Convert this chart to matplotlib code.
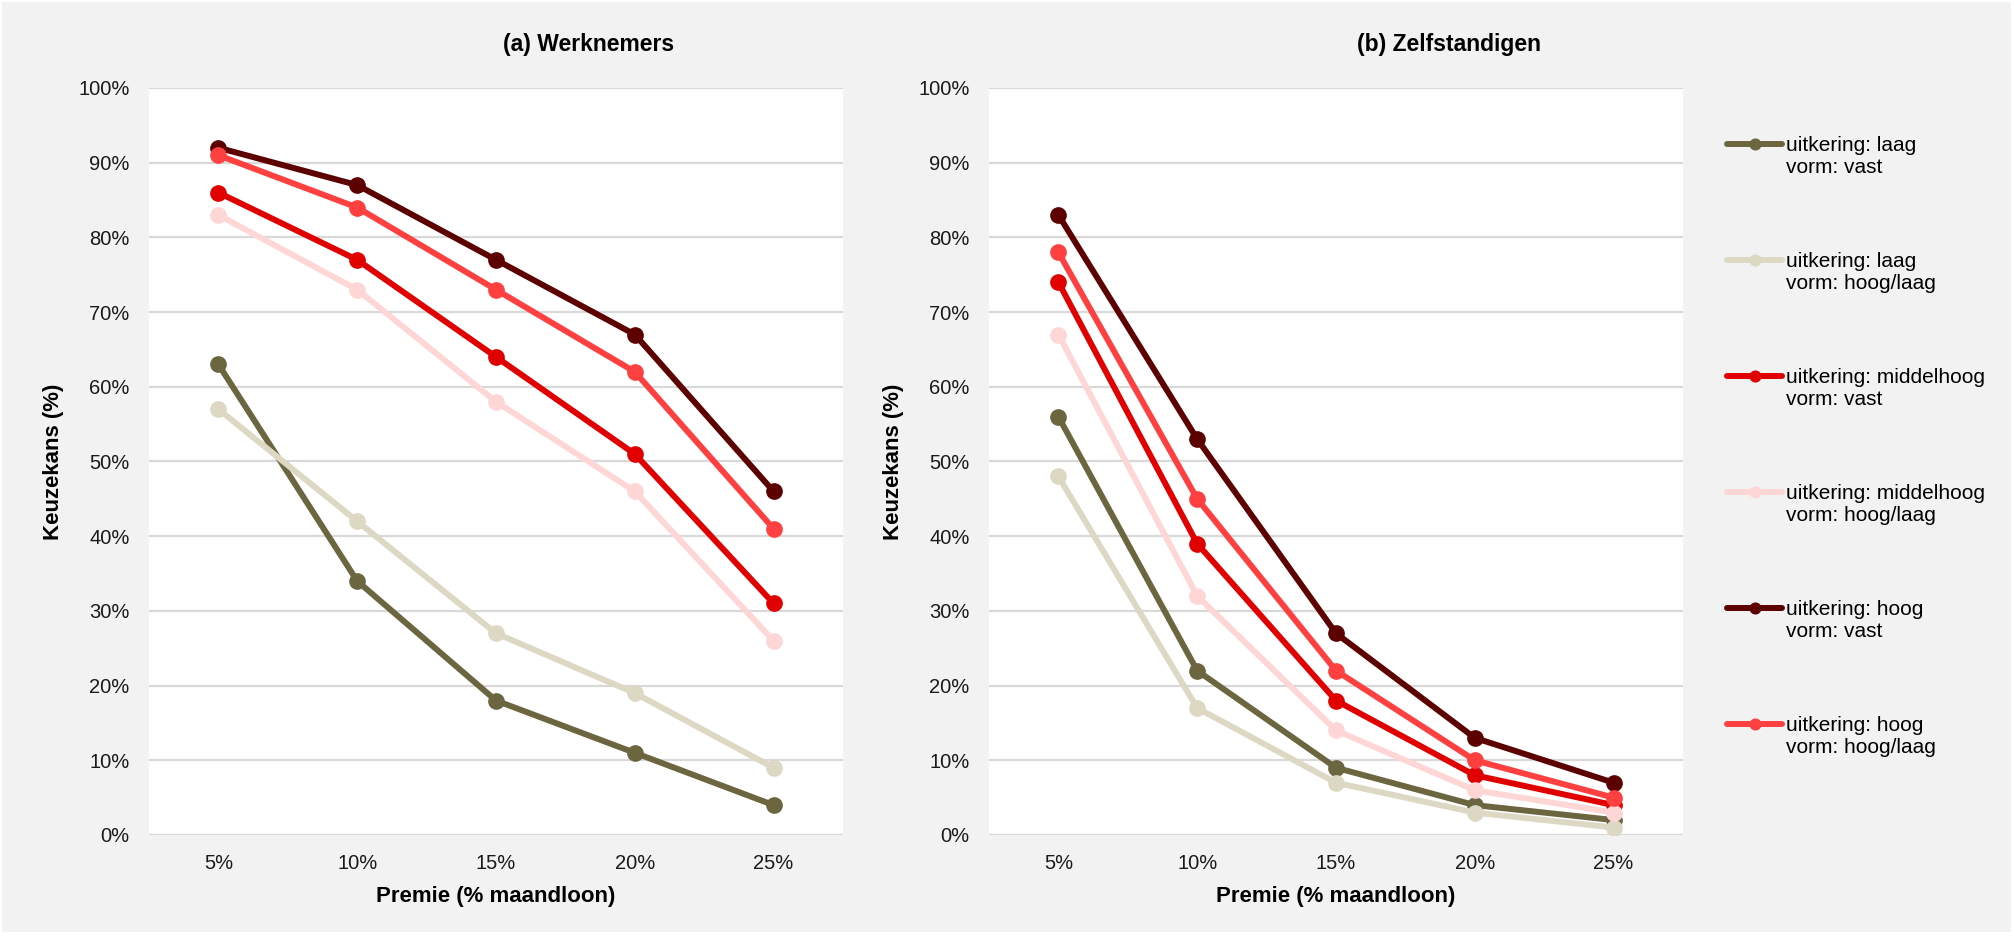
import numpy as np
import matplotlib
matplotlib.use("Agg")
import matplotlib.pyplot as plt
from matplotlib.legend_handler import HandlerLine2D
from matplotlib.patches import Rectangle

plt.rcParams['font.family'] = ['Liberation Sans', 'DejaVu Sans']

premie = ["5%", "10%", "15%", "20%", "25%"]

labels = [
    "uitkering: laag\nvorm: vast",
    "uitkering: laag\nvorm: hoog/laag",
    "uitkering: middelhoog\nvorm: vast",
    "uitkering: middelhoog\nvorm: hoog/laag",
    "uitkering: hoog\nvorm: vast",
    "uitkering: hoog\nvorm: hoog/laag",
]
colors = ["#6B6540", "#DDD8C4", "#E00000", "#FFD6D6", "#5C0000", "#FF4040"]

# (a) Werknemers
werk_laag_vast = [63, 34, 18, 11, 4]
werk_laag_hl = [57, 42, 27, 19, 9]
werk_mid_vast = [86, 77, 64, 51, 31]
werk_mid_hl = [83, 73, 58, 46, 26]
werk_hoog_vast = [92, 87, 77, 67, 46]
werk_hoog_hl = [91, 84, 73, 62, 41]

# (b) Zelfstandigen
zelf_laag_vast = [56, 22, 9, 4, 2]
zelf_laag_hl = [48, 17, 7, 3, 1]
zelf_mid_vast = [74, 39, 18, 8, 4]
zelf_mid_hl = [67, 32, 14, 6, 3]
zelf_hoog_vast = [83, 53, 27, 13, 7]
zelf_hoog_hl = [78, 45, 22, 10, 5]

werk = [werk_laag_vast, werk_laag_hl, werk_mid_vast, werk_mid_hl, werk_hoog_vast, werk_hoog_hl]
zelf = [zelf_laag_vast, zelf_laag_hl, zelf_mid_vast, zelf_mid_hl, zelf_hoog_vast, zelf_hoog_hl]

W, H = 2015, 936
fig = plt.figure(figsize=(W / 100, H / 100), dpi=100)
fig.patch.set_facecolor("white")
fig.add_artist(Rectangle((2 / W, 4 / H), (W - 6) / W, (H - 6) / H,
                         transform=fig.transFigure, facecolor="#F2F2F2",
                         edgecolor="none", zorder=-10))

ax_top = 88
ax_bot = 835
ax_w = 694
ax1 = fig.add_axes([149 / W, (H - ax_bot) / H, ax_w / W, (ax_bot - ax_top) / H])
ax2 = fig.add_axes([989 / W, (H - ax_bot) / H, ax_w / W, (ax_bot - ax_top) / H])

titles = ["(a) Werknemers", "(b) Zelfstandigen"]
title_x = [589, 1449]
x = np.arange(len(premie))
for ax, data, title, tx in [(ax1, werk, titles[0], title_x[0]),
                            (ax2, zelf, titles[1], title_x[1])]:
    ax.set_facecolor("white")
    ax.set_zorder(1)
    for vals, col, lab in zip(data, colors, labels):
        ax.plot(x, vals, color=col, lw=4.3, marker="o", ms=11, label=lab,
                solid_capstyle="round", zorder=3)
    ax.set_xlim(-0.5, len(premie) - 0.5)
    ax.set_ylim(0, 100)
    ax.set_yticks(np.arange(0, 101, 10))
    ax.set_yticklabels([f"{v}%" for v in range(0, 101, 10)])
    ax.set_xticks(x)
    ax.set_xticklabels(premie)
    ax.grid(axis="y", color="#D9D9D9", lw=1.6)
    ax.grid(axis="x", visible=False)
    ax.set_axisbelow(True)
    for s in ax.spines.values():
        s.set_visible(False)
    ax.tick_params(axis="both", length=0, labelsize=14.5, colors="#1a1a1a")
    ax.tick_params(axis="y", pad=14)
    ax.tick_params(axis="x", pad=14)
    ax.set_xlabel("Premie (% maandloon)", fontsize=16, fontweight="bold", labelpad=9)
    ax.set_ylabel("Keuzekans (%)", fontsize=16, fontweight="bold", labelpad=10)
    fig.text(tx / W, 1 - 51 / H, title, fontsize=16.5, fontweight="bold",
             ha="center", va="baseline")


class ShiftedHandler(HandlerLine2D):
    def __init__(self, shift, **kw):
        super().__init__(**kw)
        self.shift = shift

    def create_artists(self, legend, orig_handle, xdescent, ydescent, width,
                       height, fontsize, trans):
        arts = super().create_artists(legend, orig_handle, xdescent, ydescent,
                                      width, height, fontsize, trans)
        for a in arts:
            a.set_ydata(np.asarray(a.get_ydata(), dtype=float) + self.shift)
        return arts


handles, labs = ax2.get_legend_handles_labels()
leg = fig.legend(handles, labs, loc="upper left",
                 bbox_to_anchor=(1727 / W, 1 - 136 / H),
                 frameon=False, fontsize=15, handlelength=2.65, handletextpad=0.2,
                 labelspacing=3.6, markerscale=0.7, borderpad=0, borderaxespad=0,
                 handler_map={h: ShiftedHandler(9.0) for h in handles})

fig.savefig("out.png", dpi=100, facecolor=fig.get_facecolor())
